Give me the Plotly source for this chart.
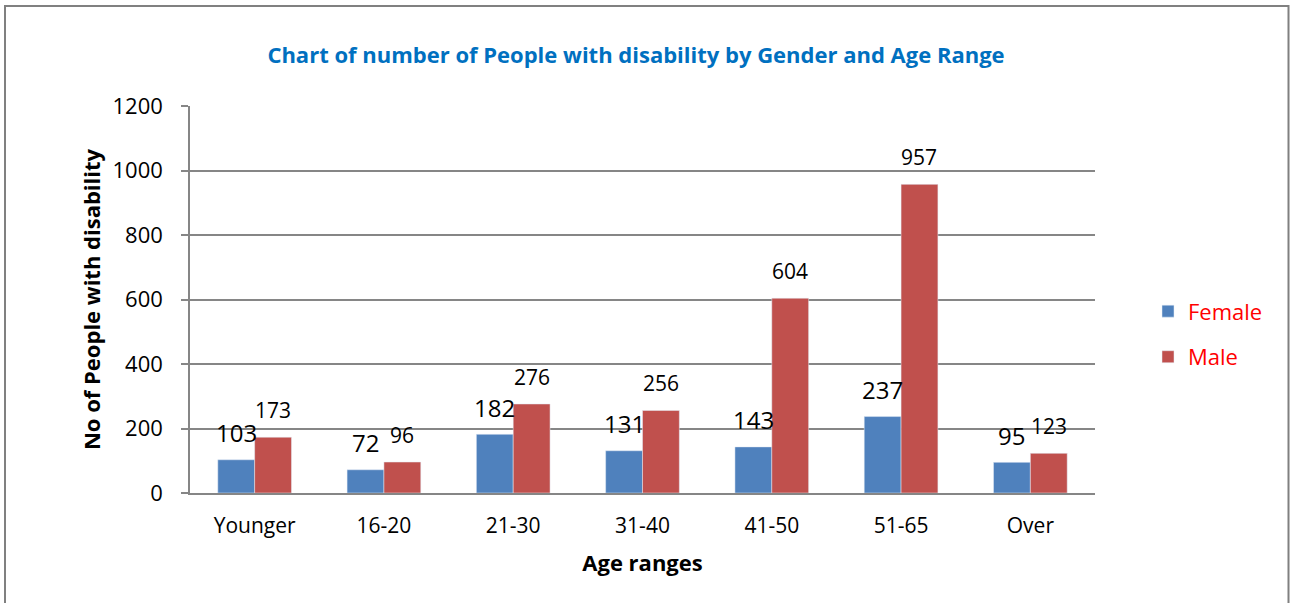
import plotly.graph_objects as go

# Age ranges on the category axis
age_ranges = ["Younger", "16-20", "21-30", "31-40", "41-50", "51-65", "Over"]

# Number of people with disability per age range
female = [103, 72, 182, 131, 143, 237, 95]
male = [173, 96, 276, 256, 604, 957, 123]

FEMALE_COLOR = "#4F81BD"
MALE_COLOR = "#C0504D"
GRID = "#868686"
FONT = "Open Sans"

W, H = 1290, 603
L, R, T, B = 190, 195, 106, 110
BARGAP = 0.43

fig = go.Figure()
fig.add_trace(go.Bar(x=age_ranges, y=female, name="Female", marker_color=FEMALE_COLOR,
                     legendgroup="f"))
fig.add_trace(go.Bar(x=age_ranges, y=male, name="Male", marker_color=MALE_COLOR,
                     legendgroup="m"))

# Value labels above each bar, shifted sideways onto their own bar
plot_w = W - L - R
cat_px = plot_w / len(age_ranges)
bar_px = cat_px * (1 - BARGAP) / 2
for cat, f, m in zip(age_ranges, female, male):
    fig.add_annotation(x=cat, y=f, text=str(f), showarrow=False, xshift=-bar_px / 2,
                       yshift=27, yanchor="middle",
                       font=dict(family=FONT, size=24, color="black"))
    fig.add_annotation(x=cat, y=m, text=str(m), showarrow=False, xshift=bar_px / 2,
                       yshift=27, yanchor="middle",
                       font=dict(family=FONT, size=21, color="black"))

# Outer chart frame (bottom edge runs past the page)
plot_h = H - T - B
x0 = (5 - L) / plot_w
x1 = (1288.5 - L) / plot_w
y1 = (H - B - 6) / plot_h
y0 = (H - B - 620) / plot_h
fig.add_shape(type="rect", xref="paper", yref="paper", x0=x0, x1=x1, y0=y0, y1=y1,
              line=dict(color="#808080", width=2), fillcolor="rgba(0,0,0,0)", layer="below")

fig.update_layout(
    width=W, height=H,
    margin=dict(l=L, r=R, t=T, b=B, autoexpand=False),
    paper_bgcolor="white", plot_bgcolor="white",
    barmode="group", bargap=BARGAP, bargroupgap=0,
    font=dict(family=FONT, color="black"),
    title=dict(text="<b>Chart of number of People with disability by Gender and Age Range</b>",
               x=636 / W, xref="container", xanchor="center",
               y=1 - 55 / H, yref="container", yanchor="middle",
               font=dict(family=FONT, size=22, color="#0070C0")),
    legend=dict(x=(1148 - L) / plot_w, xanchor="left", y=0.41, yanchor="middle",
                font=dict(family=FONT, size=22, color="#FF0000"),
                traceorder="grouped", tracegroupgap=14, bgcolor="rgba(0,0,0,0)"),
    xaxis=dict(
        showline=True, linecolor=GRID, linewidth=1.5, ticks="",
        tickfont=dict(family=FONT, size=21, color="black"), ticklabelstandoff=13,
        title=dict(text="<b>Age ranges</b>", font=dict(family=FONT, size=22, color="black"),
                   standoff=18),
        automargin=False,
    ),
    yaxis=dict(
        range=[0, 1200], tickvals=[0, 200, 400, 600, 800, 1000, 1200],
        showgrid=True, gridcolor=GRID, gridwidth=1.5,
        showline=True, linecolor=GRID, linewidth=1.5,
        ticks="outside", ticklen=7, tickcolor=GRID, tickwidth=1.5,
        tickfont=dict(family=FONT, size=22, color="black"), ticklabelstandoff=14,
        title=dict(text="<b>No of People with disability</b>",
                   font=dict(family=FONT, size=22, color="black"), standoff=6),
        zeroline=False, automargin=False,
    ),
)

fig.write_html("out.html")
